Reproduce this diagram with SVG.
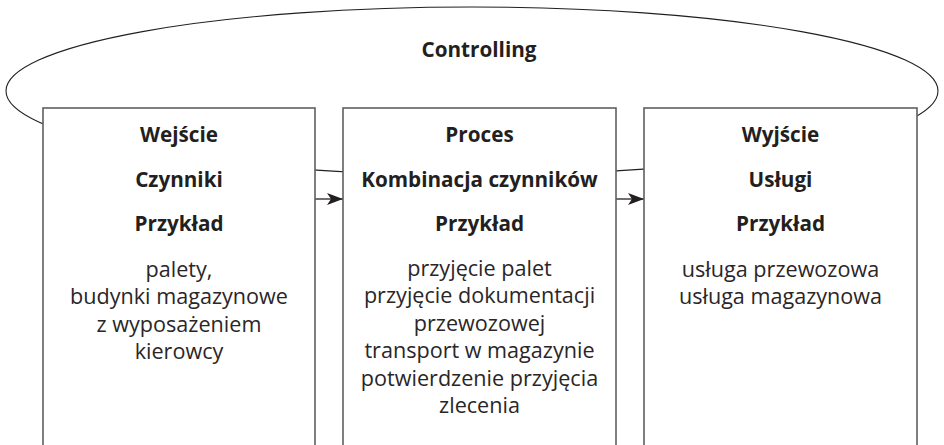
<svg xmlns="http://www.w3.org/2000/svg" width="944" height="445" viewBox="0 0 944 445">
  <style>
    .box { fill: #ffffff; stroke: #5f5f5f; stroke-width: 1.6; }
    .loop { fill: none; stroke: #231f20; stroke-width: 1.1; }
    .link { fill: none; stroke: #231f20; stroke-width: 1.3; }
    text { font-family: "Open Sans", "Noto Sans", sans-serif; fill: #231f20; text-anchor: middle; }
    .head { font-weight: 700; font-size: 20.7px; }
    .body { font-weight: 400; font-size: 21.6px; fill: #2a2627; }
  </style>
  <defs>
    <marker id="arrow" viewBox="0 0 16 12" refX="16" refY="6" markerWidth="16" markerHeight="12" markerUnits="userSpaceOnUse" orient="auto">
      <path d="M0,0 L16,6 L0,12 L4,6 Z" fill="#231f20"/>
    </marker>
  </defs>

  <!-- controlling loop behind the three stages -->
  <g id="controlling">
    <ellipse class="loop" cx="472" cy="91" rx="466" ry="84"/>
    <text class="head" x="479" y="57">Controlling</text>
  </g>

  <!-- flow between stages -->
  <g id="connectors">
    <line class="link" x1="315" y1="199" x2="343" y2="199" marker-end="url(#arrow)"/>
    <line class="link" x1="616" y1="199" x2="644" y2="199" marker-end="url(#arrow)"/>
  </g>

  <g id="wejscie">
    <rect class="box" x="43" y="108" width="272" height="345"/>
    <text class="head" x="179" y="142">Wejście</text>
    <text class="head" x="179" y="187">Czynniki</text>
    <text class="head" x="179" y="231">Przykład</text>
    <text class="body" x="179" y="277">palety,</text>
    <text class="body" x="179" y="304.4">budynki magazynowe</text>
    <text class="body" x="179" y="331.8">z wyposażeniem</text>
    <text class="body" x="179" y="359.2">kierowcy</text>
  </g>

  <g id="proces">
    <rect class="box" x="343" y="108" width="273" height="345"/>
    <text class="head" x="479.5" y="142">Proces</text>
    <text class="head" x="479.5" y="187">Kombinacja czynników</text>
    <text class="head" x="479.5" y="231">Przykład</text>
    <text class="body" x="479.5" y="276">przyjęcie palet</text>
    <text class="body" x="479.5" y="303.4">przyjęcie dokumentacji</text>
    <text class="body" x="479.5" y="330.8">przewozowej</text>
    <text class="body" x="479.5" y="358.2">transport w magazynie</text>
    <text class="body" x="479.5" y="385.6">potwierdzenie przyjęcia</text>
    <text class="body" x="479.5" y="413">zlecenia</text>
  </g>

  <g id="wyjscie">
    <rect class="box" x="644" y="108" width="273" height="345"/>
    <text class="head" x="780.5" y="142">Wyjście</text>
    <text class="head" x="780.5" y="187">Usługi</text>
    <text class="head" x="780.5" y="231">Przykład</text>
    <text class="body" x="780.5" y="277">usługa przewozowa</text>
    <text class="body" x="780.5" y="304.4">usługa magazynowa</text>
  </g>
</svg>
